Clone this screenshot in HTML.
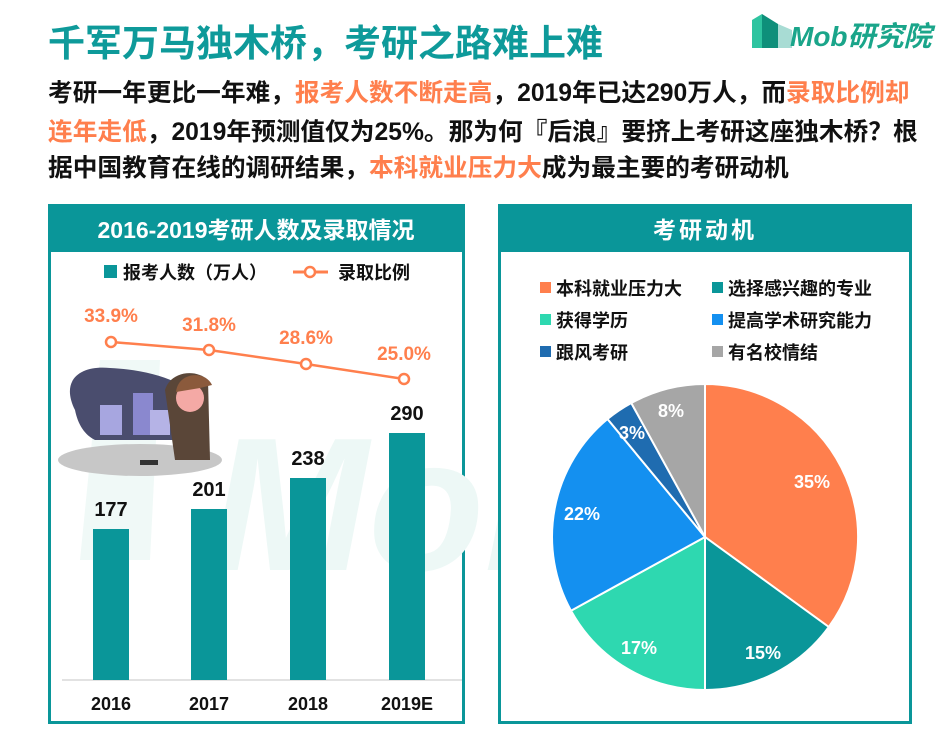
<!DOCTYPE html>
<html><head><meta charset="utf-8"><style>
body{margin:0;background:#fff;width:942px;height:736px;overflow:hidden;font-family:"Liberation Sans","Noto Sans CJK SC",sans-serif}
svg text{font-family:"Liberation Sans","Noto Sans CJK SC",sans-serif;font-weight:bold}
</style></head><body>
<svg width="942" height="736" viewBox="0 0 942 736" xmlns="http://www.w3.org/2000/svg">
<text x="48" y="56" font-size="37" fill="#0E9A9A">千军万马独木桥，考研之路难上难</text>
<polygon points="752,20 762,14 762,48 752,48" fill="#2EC4A0"/>
<polygon points="762,14 778,24 778,48 762,48" fill="#0E8F7A"/>
<polygon points="778,24 792,30 792,48 778,48" fill="#A8DCD4"/>
<text x="790" y="46" font-size="28" fill="#1AA58A" font-style="italic">Mob研究院</text>
<g font-size="24.7" fill="#111">
<text x="48" y="101">考研一年更比一年难，<tspan fill="#FF7F4D">报考人数不断走高</tspan>，2019年已达290万人，而<tspan fill="#FF7F4D">录取比例却</tspan></text>
<text x="48" y="140"><tspan fill="#FF7F4D">连年走低</tspan>，2019年预测值仅为25%。那为何『后浪』要挤上考研这座独木桥？根</text>
<text x="48" y="176">据中国教育在线的调研结果，<tspan fill="#FF7F4D">本科就业压力大</tspan>成为最主要的考研动机</text>
</g>
<rect x="49.5" y="205.5" width="414" height="517" fill="#fff" stroke="#0A9699" stroke-width="3"/>
<rect x="48" y="204" width="417" height="48" fill="#0A9699"/>
<text x="256" y="238" font-size="23" fill="#fff" text-anchor="middle">2016-2019考研人数及录取情况</text>
<text x="210" y="570" font-size="190" fill="#EDF8F6" font-style="italic" font-weight="bold">Mob</text>
<polygon points="100,360 160,360 150,560 80,560" fill="#F0F9F7"/>
<rect x="104" y="265" width="13" height="13" fill="#0A9699"/>
<text x="123" y="279" font-size="18" fill="#111">报考人数（万人）</text>
<line x1="293" y1="272" x2="328" y2="272" stroke="#FF7F4D" stroke-width="3"/>
<circle cx="310" cy="272" r="5" fill="#fff" stroke="#FF7F4D" stroke-width="2.5"/>
<text x="338" y="279" font-size="18" fill="#111">录取比例</text>
<ellipse cx="140" cy="460" rx="82" ry="16" fill="#C7C7C7"/>
<path d="M75,410 C60,380 80,365 110,368 C150,370 180,380 205,400 L205,440 L95,440 C85,435 78,425 75,410Z" fill="#4A4D6E"/>
<rect x="100" y="405" width="22" height="30" fill="#A7A6E0"/>
<rect x="133" y="393" width="20" height="42" fill="#8A88CF"/>
<rect x="150" y="410" width="20" height="25" fill="#B5B3E6"/>
<path d="M165,390 C170,372 195,368 208,380 L210,460 L175,460Z" fill="#5A4638"/>
<circle cx="190" cy="398" r="14" fill="#F4A9A5"/>
<path d="M176,392 C178,372 205,370 212,385 L200,388Z" fill="#8B5A3C"/>
<rect x="140" y="460" width="18" height="5" fill="#333"/>
<line x1="62" y1="680" x2="462" y2="680" stroke="#D9D9D9" stroke-width="1.5"/>
<rect x="93" y="529" width="36" height="151" fill="#0A9699"/>
<rect x="191" y="509" width="36" height="171" fill="#0A9699"/>
<rect x="290" y="478" width="36" height="202" fill="#0A9699"/>
<rect x="389" y="433" width="36" height="247" fill="#0A9699"/>
<g font-size="20" fill="#111" text-anchor="middle">
<text x="111" y="516">177</text><text x="209" y="496">201</text><text x="308" y="465">238</text><text x="407" y="420">290</text>
</g>
<g font-size="18" fill="#111" text-anchor="middle">
<text x="111" y="710">2016</text><text x="209" y="710">2017</text><text x="308" y="710">2018</text><text x="407" y="710">2019E</text>
</g>
<polyline points="111,342 209,350 306,364 404,379" fill="none" stroke="#FF7F4D" stroke-width="2.5"/>
<g fill="#fff" stroke="#FF7F4D" stroke-width="2.5">
<circle cx="111" cy="342" r="5"/><circle cx="209" cy="350" r="5"/><circle cx="306" cy="364" r="5"/><circle cx="404" cy="379" r="5"/>
</g>
<g font-size="19" fill="#FF7F4D" text-anchor="middle" font-weight="normal">
<text x="111" y="322">33.9%</text><text x="209" y="331">31.8%</text><text x="306" y="344">28.6%</text><text x="404" y="360">25.0%</text>
</g>
<rect x="499.5" y="205.5" width="411" height="517" fill="#fff" stroke="#0A9699" stroke-width="3"/>
<rect x="498" y="204" width="414" height="48" fill="#0A9699"/>
<text x="705" y="238" font-size="23" fill="#fff" text-anchor="middle" letter-spacing="3">考研动机</text>
<g font-size="18" fill="#111">
<rect x="540" y="282" width="11" height="11" fill="#FF7F4D"/><text x="556" y="295">本科就业压力大</text>
<rect x="712" y="282" width="11" height="11" fill="#0A9699"/><text x="728" y="295">选择感兴趣的专业</text>
<rect x="540" y="314" width="11" height="11" fill="#2ED8B0"/><text x="556" y="327">获得学历</text>
<rect x="712" y="314" width="11" height="11" fill="#1490F0"/><text x="728" y="327">提高学术研究能力</text>
<rect x="540" y="346" width="11" height="11" fill="#1F6CB0"/><text x="556" y="359">跟风考研</text>
<rect x="712" y="346" width="11" height="11" fill="#A6A6A6"/><text x="728" y="359">有名校情结</text>
</g>
<g stroke="#fff" stroke-width="2">
<path d="M705,537 L705,384 A153,153 0 0 1 828.8,627 Z" fill="#FF7F4D"/>
<path d="M705,537 L828.8,627 A153,153 0 0 1 705,690 Z" fill="#0A9699"/>
<path d="M705,537 L705,690 A153,153 0 0 1 571,610.7 Z" fill="#2ED8B0"/>
<path d="M705,537 L571,610.7 A153,153 0 0 1 607.5,419 Z" fill="#1490F0"/>
<path d="M705,537 L607.5,419 A153,153 0 0 1 631.3,403 Z" fill="#1F6CB0"/>
<path d="M705,537 L631.3,403 A153,153 0 0 1 705,384 Z" fill="#A6A6A6"/>
</g>
<g font-size="18" fill="#fff" text-anchor="middle">
<text x="812" y="488">35%</text><text x="763" y="659">15%</text><text x="639" y="654">17%</text><text x="582" y="520">22%</text><text x="632" y="439">3%</text><text x="671" y="417">8%</text>
</g>
</svg>
</body></html>
